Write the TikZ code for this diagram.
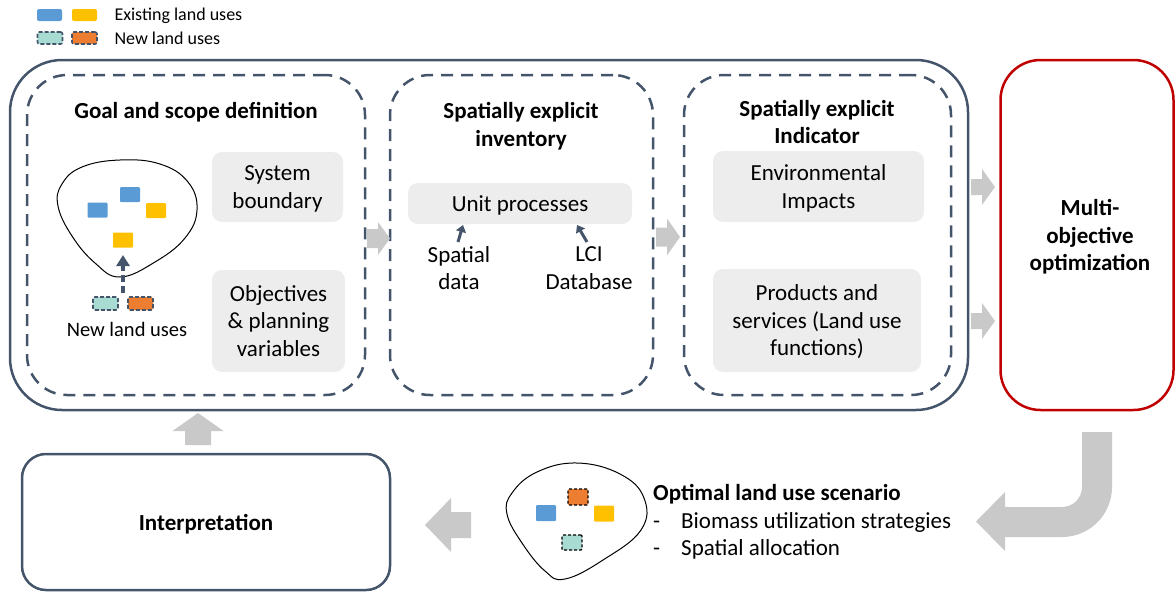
\documentclass[tikz,border=0pt]{standalone}
\usepackage{fontspec}
\setmainfont{Carlito}
\usetikzlibrary{arrows.meta}

\definecolor{slate}{HTML}{44546A}
\definecolor{boxgray}{HTML}{EDEDED}
\definecolor{arrowgray}{HTML}{C9C9C9}
\definecolor{lublue}{HTML}{5B9BD5}
\definecolor{luyellow}{HTML}{FFC000}
\definecolor{luorange}{HTML}{ED7D31}
\definecolor{luteal}{HTML}{A8DCD3}
\definecolor{mored}{HTML}{C00000}

\newcommand{\bodyfont}{\fontsize{23}{27.5}\selectfont}
\newcommand{\legendfont}{\fontsize{18}{20}\selectfont}
% a line whose descenders do not push the block upwards
\newcommand{\nodepth}[1]{\raisebox{0pt}[\height][0pt]{#1}}

\tikzset{
  outerbox/.style={draw=slate, line width=2.5pt, rounded corners=52pt, inner sep=0pt},
  stagebox/.style={draw=slate, line width=2.5pt, dash pattern=on 12pt off 8pt,
                   rounded corners=40pt, inner sep=0pt},
  graybox/.style={fill=boxgray, rounded corners=10pt, align=center, font=\bodyfont, inner sep=0pt},
  heading/.style={font=\bfseries\bodyfont, align=center},
  plain/.style={font=\bodyfont, align=center},
  lurect/.style={minimum width=20pt, minimum height=15pt, inner sep=0pt, rounded corners=1pt},
  legrect/.style={minimum width=25pt, minimum height=12pt, inner sep=0pt, rounded corners=2pt},
  newdash/.style={draw=slate, line width=1.6pt, dash pattern=on 4pt off 2pt},
  newdashblack/.style={draw=black, line width=1.2pt, dash pattern=on 3pt off 2pt},
  blob/.style={draw=black, line width=1pt},
  slatearrow/.style={draw=slate, line width=3pt, -{Triangle[length=7pt,width=10pt]}},
  pics/blockarrow/.style args={#1/#2/#3/#4}{code={
    \fill[arrowgray] (0,{-#2/2}) -- ({#1-#4},{-#2/2}) -- ({#1-#4},{-#3/2}) -- (#1,0)
      -- ({#1-#4},{#3/2}) -- ({#1-#4},{#2/2}) -- (0,{#2/2}) -- cycle;
  }},
}

\begin{document}
\begin{tikzpicture}[x=1pt,y=-1pt]
\useasboundingbox (0,0) rectangle (1175,592);

% legend
\node[legrect, fill=lublue] (legb) at (49.5,15) {};
\node[legrect, fill=luyellow] (legy) at (84.5,15) {};
\node[anchor=west, font=\legendfont] (legexist) at (111,16) {Existing land uses};
\node[legrect, fill=luteal, newdash] (legt) at (50,38) {};
\node[legrect, fill=luorange, newdash] (lego) at (84.5,38) {};
\node[anchor=west, font=\legendfont] (legnew) at (111,38) {New land uses};

% LCA frame and its three stages
\node[outerbox, minimum width=958pt, minimum height=350pt] (outer) at (489,235) {};
\node[stagebox, minimum width=338pt, minimum height=320pt] (stage1) at (196,235) {};
\node[stagebox, minimum width=263pt, minimum height=320pt] (stage2) at (521.5,235) {};
\node[stagebox, minimum width=267pt, minimum height=320pt] (stage3) at (817.5,235) {};

% stage 1: goal and scope
\node[heading] (h1) at (196,112) {Goal and scope definition};
\node[graybox, minimum width=131pt, minimum height=70pt] (sysb) at (277.5,187) {System\\\nodepth{boundary}};
\node[graybox, minimum width=133pt, minimum height=102pt] (objv) at (278.5,321) {Objectives\\\& planning\\variables};

\draw[blob] plot[smooth cycle, tension=0.7] coordinates {
  (62,184) (82,167) (120,160) (160,164) (188,182) (197,210) (185,238)
  (155,262) (120,277) (95,263) (72,236) (58,206)};
\node[lurect, fill=lublue] (b1) at (130,194.5) {};
\node[lurect, fill=lublue] (b2) at (97.5,210) {};
\node[lurect, fill=luyellow] (y1) at (156,210.5) {};
\node[lurect, fill=luyellow] (y2) at (123,240) {};
\node[legrect, minimum height=13pt, fill=luteal, newdash] (nt) at (105.5,303.5) {};
\node[legrect, minimum height=13pt, fill=luorange, newdash] (no) at (140.5,303.5) {};
\coordinate (newsrc) at (123,293);
\coordinate (newdst) at (123,255);
\draw[draw=slate, line width=3.5pt, dash pattern=on 7pt off 4pt,
      -{Triangle[length=11pt,width=13pt]}] (newsrc) -- (newdst);
\node[font=\fontsize{20.5}{25}\selectfont] (newlbl) at (127,329) {New land uses};

% stage 2: inventory
\node[heading] (h2) at (521,126) {Spatially explicit\\inventory};
\node[graybox, minimum width=224pt, minimum height=41pt] (unitp) at (520,203.5) {\nodepth{Unit processes}};
\node[plain] (spat) at (459,268) {Spatial\\data};
\node[plain] (lci) at (589,268) {LCI\\Database};
\coordinate (spattip) at (463,225);
\coordinate (lcitip) at (577,225);
\draw[slatearrow] (458,242) -- (spattip);
\draw[slatearrow] (587,242) -- (lcitip);

% stage 3: indicators
\node[heading] (h3) at (817,122) {Spatially explicit\\Indicator};
\node[graybox, minimum width=211pt, minimum height=71pt] (envi) at (818.5,186.5) {Environmental\\\nodepth{Impacts}};
\node[graybox, minimum width=208pt, minimum height=103pt] (prod) at (817,320.5) {Products and\\services (Land use\\\nodepth{functions)}};

% optimisation
\node[draw=mored, line width=2.5pt, rounded corners=40pt, inner sep=0pt,
      minimum width=173pt, minimum height=350pt] (moo) at (1087,235) {};
\node[font=\bfseries\bodyfont, align=center] (mootext) at (1090,237) {Multi-\\objective\\optimization};

% interpretation
\node[draw=slate, line width=2.5pt, rounded corners=24pt, inner sep=0pt,
      minimum width=368pt, minimum height=136pt, font=\bfseries\bodyfont]
      (interp) at (206,522) {\nodepth{Interpretation}};

% optimal scenario
\draw[blob] plot[smooth cycle, tension=0.7] coordinates {
  (512,493) (537,472) (577,463) (620,474) (644,498) (641,530)
  (603,560) (565,579) (545,571) (522,543) (507,514)};
\node[lurect, minimum height=16pt, fill=luorange, newdashblack] (so) at (578,497) {};
\node[lurect, minimum height=16pt, fill=lublue] (sb) at (546,513) {};
\node[lurect, minimum height=16pt, fill=luyellow] (sy) at (604,513.5) {};
\node[lurect, fill=luteal, newdashblack] (st) at (572,542.5) {};
\node[anchor=west, font=\bodyfont, align=left, inner sep=0pt] (scen) at (653,522)
  {\textbf{Optimal land use scenario}\\
   \makebox[28pt][l]{-}Biomass utilization strategies\\
   \makebox[28pt][l]{-}Spatial allocation};

% flow arrows
\pic at (367,238.5) {blockarrow=23/19/33/12};
\pic at (656,237) {blockarrow=24/19/37/13};
\pic at (971,187) {blockarrow=24/16/36/13};
\pic at (971,321) {blockarrow=24/16/36/13};
\pic[rotate=90] at (198,445) {blockarrow=32/26/51/18};
\pic[rotate=180] at (471,525) {blockarrow=46/26/54/26};
\fill[arrowgray] (1082,432) -- (1112,432) -- (1112,487)
  arc[start angle=0, end angle=90, radius=50] -- (1005,537) -- (1005,551)
  -- (976,521.5) -- (1005,492) -- (1005,507) -- (1062,507)
  arc[start angle=90, end angle=0, radius=20] -- cycle;
\end{tikzpicture}
\end{document}
